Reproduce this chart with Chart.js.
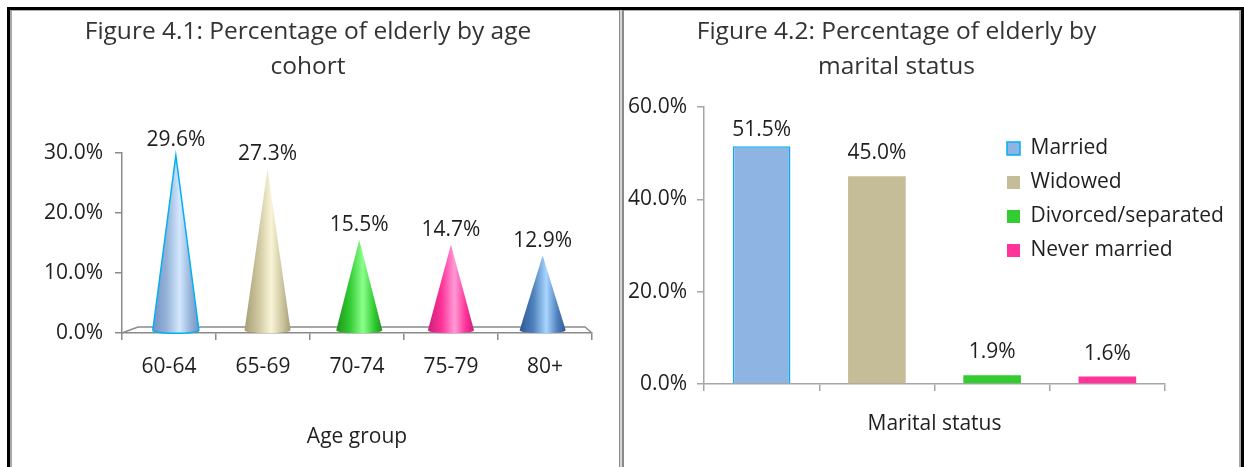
<!DOCTYPE html>
<html>
<head>
<meta charset="utf-8">
<script src="https://cdn.jsdelivr.net/npm/chart.js@4.4.0/dist/chart.umd.min.js"></script>
<style>
html,body{margin:0;padding:0;background:#fff;width:1244px;height:467px;overflow:hidden;}
canvas{position:absolute;top:0;}
#c1{left:11px;}
#c2{left:624px;}
.ln{position:absolute;}
</style>
</head>
<body>
<canvas id="c1" width="609" height="467"></canvas>
<canvas id="c2" width="614" height="467"></canvas>
<div class="ln" style="left:7px;top:7px;width:1237px;height:3px;background:#000"></div>
<div class="ln" style="left:10px;top:10px;width:1229px;height:1px;background:#b0b0b0"></div>
<div class="ln" style="left:7px;top:7px;width:3px;height:460px;background:#000"></div>
<div class="ln" style="left:10px;top:10px;width:2px;height:457px;background:#a8a8a8"></div>
<div class="ln" style="left:1241px;top:7px;width:3px;height:460px;background:#000"></div>
<div class="ln" style="left:1239px;top:10px;width:2px;height:457px;background:#a8a8a8"></div>
<div class="ln" style="left:619px;top:10px;width:5px;height:457px;background:linear-gradient(to right,#8a8a8a 0,#8a8a8a 1.5px,#d4d4d4 1.5px,#d4d4d4 3.5px,#8a8a8a 3.5px,#8a8a8a 5px)"></div>

<script>
// ---------- data ----------
const ageGroups = ['60-64', '65-69', '70-74', '75-79', '80+'];
const agePercent = [29.6, 27.3, 15.5, 14.7, 12.9];
const ageTicks = [0, 10, 20, 30];

const maritalStatus = ['Married', 'Widowed', 'Divorced/separated', 'Never married'];
const maritalPercent = [51.5, 45.0, 1.9, 1.6];
const maritalTicks = [0, 20, 40, 60];

// ---------- styles ----------
const coneEdge = ['#7391c4', '#a59e76', '#1c951c', '#c81f79', '#2d5995'];
const coneMid = ['#95b3d7', '#cdc69f', '#33cc33', '#ff3399', '#4f81bd'];
const coneLight = ['#d4e8ff', '#f8f4d6', '#8cff8c', '#ff9ad6', '#a8d6ff'];
const coneOutline = ['#00b0f0', null, null, null, null];

const barFill = ['#8eb4e3', '#c4bd97', '#33cc33', '#ff3399'];
const barBorder = ['#00b0f0', '#c4bd97', '#33cc33', '#ff3399'];
const barBorderWidth = [1.5, 0, 0, 0];

const TEXT = '#1f1f1f';
const AXIS = '#8a8a8a';
const AXIS2 = '#a6a6a6';
const FONT = "'Open Sans', sans-serif";
const FLOOR_DX = 16, FLOOR_DY = 6, FLOOR_RX = 7;

Chart.defaults.font.family = FONT;
Chart.defaults.color = TEXT;

const pct = v => Number(v).toFixed(1) + '%';

// x position on the mid-depth plane of the 3-D floor
function depthX(chart, x) {
  const {left, right} = chart.chartArea;
  const l2 = left + FLOOR_DX / 2, r2 = right - FLOOR_RX / 2;
  return l2 + (x - left) * (r2 - l2) / (right - left);
}

// 3-D floor under the cones
const floorPlugin = {
  id: 'floor',
  beforeDatasetsDraw(chart) {
    const {ctx, chartArea: {left, right, bottom}} = chart;
    ctx.save();
    ctx.strokeStyle = AXIS;
    ctx.lineWidth = 1.5;
    ctx.beginPath();
    ctx.moveTo(left, bottom);
    ctx.lineTo(left + FLOOR_DX, bottom - FLOOR_DY);
    ctx.lineTo(right - FLOOR_RX, bottom - FLOOR_DY);
    ctx.lineTo(right, bottom);
    ctx.stroke();
    ctx.restore();
  }
};

// cones drawn from the bar elements' geometry
const conePlugin = {
  id: 'cones',
  afterDatasetsDraw(chart) {
    const ctx = chart.ctx;
    const meta = chart.getDatasetMeta(0);
    meta.data.forEach((bar, i) => {
      const p = bar.getProps(['x', 'y', 'base', 'width'], true);
      const x = depthX(chart, p.x);
      const half = p.width / 2;
      const b = p.base - 2;
      const g = ctx.createLinearGradient(x - half, 0, x + half, 0);
      g.addColorStop(0, coneEdge[i]);
      g.addColorStop(0.3, coneMid[i]);
      g.addColorStop(0.58, coneLight[i]);
      g.addColorStop(0.82, coneMid[i]);
      g.addColorStop(1, coneEdge[i]);
      ctx.save();
      ctx.beginPath();
      ctx.moveTo(x - half, b);
      ctx.lineTo(x, p.y);
      ctx.lineTo(x + half, b);
      ctx.ellipse(x, b, half, 3, 0, 0, Math.PI, false);
      ctx.closePath();
      ctx.fillStyle = g;
      ctx.fill();
      if (coneOutline[i]) {
        ctx.strokeStyle = coneOutline[i];
        ctx.lineWidth = 1.5;
        ctx.stroke();
      }
      ctx.restore();
    });
  }
};

function makeLabelPlugin(offset, minFromTop, useDepth) {
  return {
    id: 'valueLabels',
    afterDatasetsDraw(chart) {
      const ctx = chart.ctx;
      const meta = chart.getDatasetMeta(0);
      const vals = chart.data.datasets[0].data;
      ctx.save();
      ctx.font = "21px " + FONT;
      ctx.fillStyle = TEXT;
      ctx.textAlign = 'center';
      ctx.textBaseline = 'middle';
      meta.data.forEach((bar, i) => {
        let ty = bar.y - offset;
        if (minFromTop != null) ty = Math.max(ty, chart.chartArea.top + minFromTop);
        const tx = useDepth ? depthX(chart, bar.x) : bar.x;
        ctx.fillText(pct(vals[i]), tx, ty);
      });
      ctx.restore();
    }
  };
}

// place the legend inside the plot area, on the right
const legendMover = {
  id: 'legendMover',
  afterLayout(chart) {
    const lg = chart.legend;
    if (!lg) return;
    const ca = chart.chartArea;
    lg.left = ca.left + 290;
    lg.top = ca.top + 18;
    lg.width = 240;
    lg.height = 150;
    lg.right = lg.left + lg.width;
    lg.bottom = lg.top + lg.height;
  }
};

const grid1 = {display: true, drawOnChartArea: false, drawTicks: true, tickLength: 7, color: AXIS, lineWidth: 1.5};
const grid2 = {display: true, drawOnChartArea: false, drawTicks: true, tickLength: 7, color: AXIS2, lineWidth: 1.5};

// ---------- Figure 4.1 ----------
new Chart(document.getElementById('c1'), {
  type: 'bar',
  data: {
    labels: ageGroups,
    datasets: [{
      data: agePercent,
      backgroundColor: 'rgba(0,0,0,0)',
      borderWidth: 0,
      categoryPercentage: 1,
      barPercentage: 0.49
    }]
  },
  options: {
    responsive: false,
    animation: false,
    devicePixelRatio: 1,
    layout: {padding: {left: 13, right: 28, top: 0, bottom: 0}},
    plugins: {
      legend: {display: false},
      tooltip: {enabled: false},
      title: {
        display: true,
        text: ['Figure 4.1: Percentage of elderly by age', 'cohort'],
        font: {size: 24.5, weight: 'normal', lineHeight: 35 / 24.5},
        color: '#333',
        padding: {top: 14.5, bottom: 68.5}
      }
    },
    scales: {
      x: {
        grid: Object.assign({}, grid1, {offset: true}),
        border: {display: true, color: AXIS, width: 1.5},
        ticks: {font: {size: 21}, padding: 14, color: TEXT},
        title: {display: true, text: 'Age group', font: {size: 21}, color: TEXT, padding: {top: 0, bottom: 17}},
        afterFit: s => { s.height = 134; }
      },
      y: {
        min: 0,
        max: 30,
        grid: grid1,
        border: {display: true, color: AXIS, width: 1.5},
        ticks: {font: {size: 21}, padding: 12, color: TEXT, callback: v => pct(v)},
        afterBuildTicks: s => { s.ticks = ageTicks.map(v => ({value: v})); },
        afterFit: s => { s.width = 98; }
      }
    }
  },
  plugins: [floorPlugin, conePlugin, makeLabelPlugin(15, null, true)]
});

// ---------- Figure 4.2 ----------
new Chart(document.getElementById('c2'), {
  type: 'bar',
  data: {
    labels: maritalStatus,
    datasets: [{
      data: maritalPercent,
      backgroundColor: barFill,
      borderColor: barBorder,
      borderWidth: barBorderWidth,
      categoryPercentage: 1,
      barPercentage: 0.5
    }]
  },
  options: {
    responsive: false,
    animation: false,
    devicePixelRatio: 1,
    layout: {padding: {left: 4, right: 73, top: 0, bottom: 0}},
    plugins: {
      tooltip: {enabled: false},
      title: {
        display: true,
        text: ['Figure 4.2: Percentage of elderly by', 'marital status'],
        font: {size: 24.5, weight: 'normal', lineHeight: 35 / 24.5},
        color: '#333',
        padding: {top: 14.5, bottom: 22.5}
      },
      legend: {
        display: true,
        position: 'chartArea',
        align: 'start',
        labels: {
          boxWidth: 13,
          boxHeight: 13,
          padding: 13,
          font: {size: 21},
          color: TEXT,
          generateLabels: () => maritalStatus.map((name, i) => ({
            text: name,
            fillStyle: barFill[i],
            strokeStyle: barBorder[i],
            lineWidth: barBorderWidth[i],
            fontColor: TEXT,
            hidden: false,
            index: i
          }))
        }
      }
    },
    scales: {
      x: {
        grid: Object.assign({}, grid2, {offset: true}),
        border: {display: true, color: AXIS2, width: 1.5},
        ticks: {display: false},
        title: {display: true, text: 'Marital status', font: {size: 21}, color: TEXT, padding: {top: 0, bottom: 30}},
        afterFit: s => { s.height = 83; }
      },
      y: {
        min: 0,
        max: 60,
        grid: grid2,
        border: {display: true, color: AXIS2, width: 1.5},
        ticks: {font: {size: 21}, padding: 10, color: TEXT, callback: v => pct(v)},
        afterBuildTicks: s => { s.ticks = maritalTicks.map(v => ({value: v})); },
        afterFit: s => { s.width = 76; }
      }
    }
  },
  plugins: [legendMover, makeLabelPlugin(23, 23, false)]
});
</script>
</body>
</html>
